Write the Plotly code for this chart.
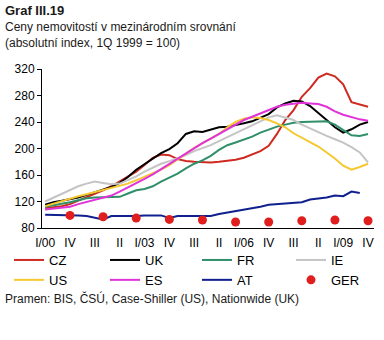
import plotly.graph_objects as go

# Quarterly axis, Q1 2000 .. Q4 2009
quarters = [f"{r}/{y:02d}" for y in range(0, 10) for r in ["I", "II", "III", "IV"]]
tick_vals = quarters[::3]
tick_text = ["I/00", "IV", "III", "II", "I/03", "IV", "III", "II",
             "I/06", "IV", "III", "II", "I/09", "IV"]

# House price indices (1Q 1999 = 100)
cz = [110, 111, 113, 116, 121, 127, 131, 137, 143, 150,
      157, 165, 175, 186, 191, 190, 184, 181, 180, 179,
      179, 180, 181, 183, 186, 191, 196, 204, 222, 243,
      258, 278, 291, 307, 313, 309, 297, 270, 267, 263]
uk = [115, 119, 121, 123, 126, 130, 134, 138, 142, 148,
      157, 168, 176, 184, 193, 199, 208, 222, 226, 225,
      228, 232, 233, 235, 238, 241, 246, 252, 262, 268,
      272, 271, 264, 254, 243, 232, 224, 229, 236, 240]
fr = [112, 114, 116, 119, 122, 125, 126, 126, 126, 127,
      132, 137, 139, 143, 150, 156, 162, 170, 177, 182,
      189, 198, 205, 209, 213, 218, 224, 229, 233, 236,
      239, 240, 240, 240, 241, 236, 228, 220, 219, 222]
ie = [120, 126, 132, 138, 143, 147, 150, 148, 146, 147,
      152, 158, 165, 171, 177, 181, 185, 190, 196, 200,
      205, 211, 217, 223, 229, 236, 242, 247, 250, 247,
      243, 236, 230, 224, 219, 214, 209, 202, 194, 179]
us = [113, 117, 121, 125, 128, 131, 134, 137, 140, 143,
      147, 152, 157, 162, 168, 175, 184, 193, 201, 208,
      215, 222, 232, 240, 245, 247, 246, 243, 238, 232,
      223, 216, 210, 203, 194, 185, 174, 168, 172, 177]
es = [108, 109, 110, 112, 116, 119, 123, 126, 129, 135,
      141, 148, 154, 161, 169, 177, 185, 193, 200, 208,
      215, 222, 230, 236, 243, 248, 253, 258, 263, 266,
      268, 269, 268, 267, 263, 256, 251, 247, 244, 242]
at = [100, 100, 100, 99, 99, 98, 96, 93, 98, 98,
      97, 98, 99, 99, 99, 95, 98, 98, 98, 98,
      98, 101, 103, 105, 107, 109, 112, 115, 116, 118,
      119, 119, 123, 124, 126, 129, 128, 135, 133, None]
# Germany: annual observations, Q4 of each year
ger_q = quarters[3::4]
ger = [99, 97, 95, 93, 92, 89, 89, 91, 92, 91]

# name, values, colour, legend column
series = [
    ("CZ", cz, "#cf2a1f", "legend"),
    ("UK", uk, "#000000", "legend2"),
    ("FR", fr, "#2f8f68", "legend3"),
    ("IE", ie, "#c4c4c4", "legend4"),
    ("US", us, "#f5c830", "legend"),
    ("ES", es, "#e033d8", "legend2"),
    ("AT", at, "#10208f", "legend3"),
]

FONT = "Arial, Liberation Sans, sans-serif"

fig = go.Figure()
for name, vals, color, leg in series:
    fig.add_trace(go.Scatter(
        x=quarters, y=vals, name=name, mode="lines",
        line=dict(color=color, width=2), connectgaps=False, legend=leg,
    ))
fig.add_trace(go.Scatter(
    x=ger_q, y=ger, name="GER", mode="markers",
    marker=dict(color="#e01e1e", size=9), legend="legend4",
))

L, R, T, B = 42, 10, 69, 112
W, H = 384, 340
pw, ph = W - L - R, H - T - B


def px(x):
    return (x - L) / pw


def py(y):
    return (H - B - y) / ph


texts = [
    ("<b>Graf III.19</b>", 10, 13),
    ("Ceny nemovitostí v mezinárodním srovnání", 27, 12),
    ("(absolutní index, 1Q 1999 = 100)", 43, 12),
    ("Pramen: BIS, ČSÚ, Case-Shiller (US), Nationwide (UK)", 298, 12),
]
annotations = [
    dict(text=t, x=px(3), y=py(yc), xref="paper", yref="paper",
         xanchor="left", yanchor="middle", showarrow=False,
         font=dict(family=FONT, size=s, color="#1a1a1a"))
    for t, yc, s in texts
]


def column_legend(x_left):
    return dict(
        orientation="v", xref="container", yref="container",
        x=x_left / W, y=1 - 245 / H, xanchor="left", yanchor="top",
        font=dict(family=FONT, size=13, color="#000000"),
        itemwidth=30, bgcolor="rgba(0,0,0,0)",
    )


fig.update_layout(
    width=W, height=H,
    margin=dict(l=L, r=R, t=T, b=B, autoexpand=False),
    paper_bgcolor="white", plot_bgcolor="white",
    font=dict(family=FONT, size=12, color="#000000"),
    showlegend=True,
    legend=column_legend(9),
    legend2=column_legend(105),
    legend3=column_legend(197),
    legend4=column_legend(291),
    annotations=annotations,
)
fig.update_xaxes(
    type="category", categoryorder="array", categoryarray=quarters,
    range=[-0.38, 39.72], tickmode="array", tickvals=tick_vals,
    ticktext=tick_text, ticks="", showgrid=False, zeroline=False,
    showline=True, linecolor="#000000", linewidth=1,
    ticklabelstandoff=4,
    tickfont=dict(family=FONT, size=12, color="#000000"),
)
fig.update_yaxes(
    range=[80, 320], tickmode="array", tickvals=list(range(80, 321, 40)),
    ticks="outside", ticklen=4, tickcolor="#000000",
    showgrid=False, zeroline=False, showline=True,
    linecolor="#000000", linewidth=1,
    tickfont=dict(family=FONT, size=12, color="#000000"),
)

fig.write_html("out.html")
